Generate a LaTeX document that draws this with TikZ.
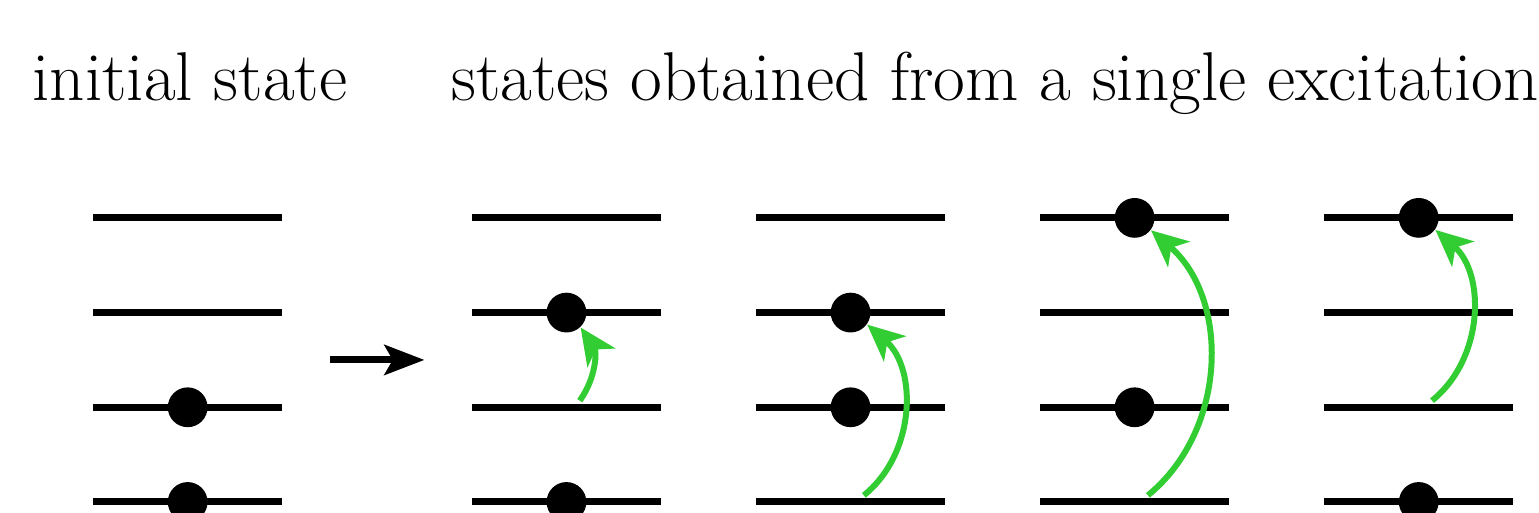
\documentclass[tikz,border=0pt]{standalone}
\usetikzlibrary{arrows.meta}
\definecolor{exgreen}{RGB}{50,205,50}

\begin{document}
\begin{tikzpicture}[line join=round,
    level/.style={line width=2.1pt},
    dot/.style={circle, fill=black, inner sep=0pt, minimum size=0.42cm},
    jump/.style={exgreen, line width=1.8pt, -{Stealth[length=11pt, width=10pt, inset=3pt]}},
    title/.style={font=\huge, anchor=base west, inner sep=0pt}]
    % 画布范围 (底部圆点被截去一半)
    \useasboundingbox (0.018,-0.116) rectangle (16.27,5.301);

    % 标题
    \node[title] (tinit) at (0.356,4.235) {initial state};
    \node[title] (texc) at (4.78,4.235) {states obtained from a single excitation};

    % 初态: 两个最低能级被占据
    \draw[level] (1,0) -- (3,0) (1,1) -- (3,1) (1,2) -- (3,2) (1,3) -- (3,3);
    \node[dot] (a0) at (2,0) {};
    \node[dot] (a1) at (2,1) {};

    % 中间的箭头
    \coordinate (from) at (3.5,1.5);
    \coordinate (to) at (4.5,1.5);
    \draw[line width=2.1pt, -{Stealth[length=12pt, width=9pt, inset=2.5pt]}] (from) -- (to);

    % 激发 1 -> 2
    \draw[level] (5,0) -- (7,0) (5,1) -- (7,1) (5,2) -- (7,2) (5,3) -- (7,3);
    \node[dot] (b0) at (6,0) {};
    \node[dot] (b2) at (6,2) {};
    \coordinate (s2) at (6.14,1.07);
    \draw[jump] (s2) to[bend right=35] (b2);

    % 激发 0 -> 2
    \draw[level] (8,0) -- (10,0) (8,1) -- (10,1) (8,2) -- (10,2) (8,3) -- (10,3);
    \node[dot] (c1) at (9,1) {};
    \node[dot] (c2) at (9,2) {};
    \coordinate (s3) at (9.14,0.07);
    \draw[jump] (s3) to[bend right=50] (c2);

    % 激发 0 -> 3
    \draw[level] (11,0) -- (13,0) (11,1) -- (13,1) (11,2) -- (13,2) (11,3) -- (13,3);
    \node[dot] (d1) at (12,1) {};
    \node[dot] (d3) at (12,3) {};
    \coordinate (s4) at (12.14,0.07);
    \draw[jump] (s4) to[bend right=50] (d3);

    % 激发 1 -> 3
    \draw[level] (14,0) -- (16,0) (14,1) -- (16,1) (14,2) -- (16,2) (14,3) -- (16,3);
    \node[dot] (e0) at (15,0) {};
    \node[dot] (e3) at (15,3) {};
    \coordinate (s5) at (15.14,1.07);
    \draw[jump] (s5) to[bend right=50] (e3);
\end{tikzpicture}
\end{document}
